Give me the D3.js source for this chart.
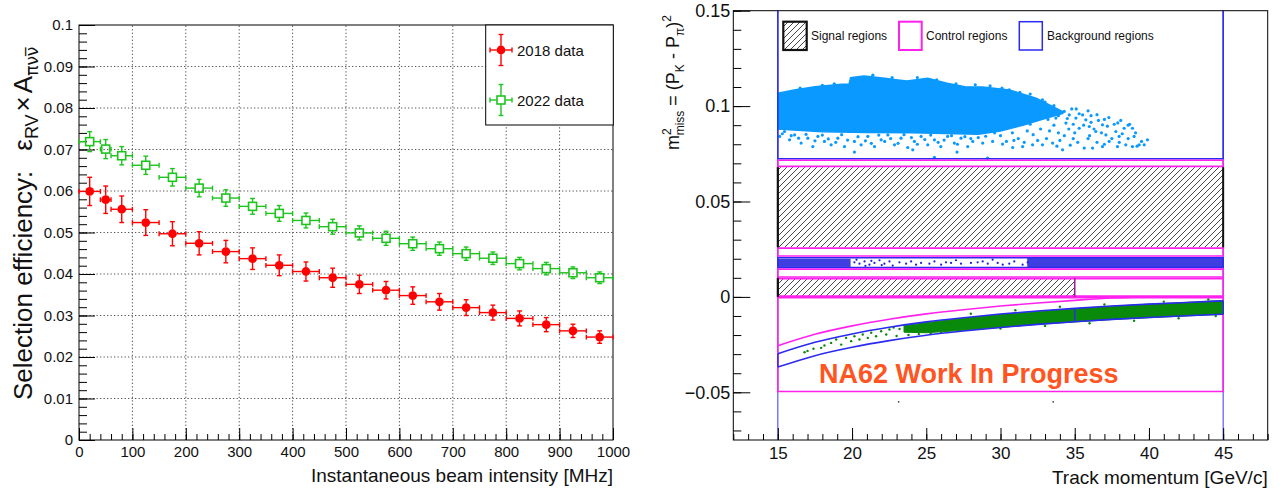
<!DOCTYPE html>
<html>
<head>
<meta charset="utf-8">
<script src="https://cdnjs.cloudflare.com/ajax/libs/d3/7.8.5/d3.min.js"></script>
<style>
  body { margin: 0; background: #fff; }
  svg { display: block; font-family: "Liberation Sans", Arial, Helvetica, sans-serif; }
</style>
</head>
<body>
<svg id="chart" width="1288" height="489"></svg>
<script>
// ---- left panel: selection efficiency vs beam intensity ----
const binEdges = [0, 40, 60, 100, 150, 200, 250, 300, 350, 400, 450, 500, 550, 600, 650, 700, 750, 800, 850, 900, 950, 1000];
const eff2018 = [0.0599, 0.0579, 0.0556, 0.0524, 0.0497, 0.0474, 0.0454, 0.0437, 0.0421, 0.0406, 0.0391,
                 0.0375, 0.0361, 0.0348, 0.0333, 0.0319, 0.0307, 0.0293, 0.0278, 0.0263, 0.0248];
const err2018 = [0.0034, 0.0033, 0.0032, 0.0031, 0.0029, 0.0028, 0.0027, 0.0026, 0.0025, 0.0023, 0.0023,
                 0.0022, 0.0021, 0.0021, 0.0020, 0.0019, 0.0018, 0.0018, 0.0017, 0.0016, 0.0015];
const eff2022 = [0.0719, 0.0701, 0.0685, 0.0662, 0.0633, 0.0607, 0.0583, 0.0563, 0.0546, 0.0529, 0.0514,
                 0.0499, 0.0486, 0.0473, 0.0461, 0.0449, 0.0438, 0.0425, 0.0413, 0.0403, 0.0391];
const err2022 = [0.0024, 0.0023, 0.0022, 0.0022, 0.0021, 0.0021, 0.0020, 0.0019, 0.0019, 0.0018, 0.0018,
                 0.0017, 0.0017, 0.0016, 0.0016, 0.0016, 0.0015, 0.0015, 0.0015, 0.0014, 0.0014];
const seriesNames = ["2018 data", "2022 data"];

// ---- right panel: m2miss vs track momentum ----
const signalRegions = [[15, 45, 0.026, 0.068], [15, 35, 0, 0.010]];
const controlRegions = [[15, 45, 0.068, 0.072], [15, 45, 0.021, 0.026], [15, 45, 0.010, 0.015], [15, 45, 0, 0.010], [15, 45, -0.05, 0]];
const backgroundRegions = [[15, 45, 0.072, 0.15], [15, 45, 0.015, 0.021]];
const regionNames = ["Signal regions", "Control regions", "Background regions"];

const curveP = [15, 17.5, 20, 22.5, 25, 27.5, 30, 32.5, 35, 37.5, 40, 42.5, 45];
const kmuUpper = [-0.0298, -0.0238, -0.0194, -0.0159, -0.0131, -0.0109, -0.0090, -0.0074, -0.0060, -0.0048, -0.0038, -0.0029, -0.0021];
const kmuLower = [-0.0368, -0.0308, -0.0264, -0.0229, -0.0201, -0.0179, -0.0160, -0.0144, -0.0130, -0.0118, -0.0108, -0.0099, -0.0091];
const ctrlCurve = [-0.0256, -0.0196, -0.0152, -0.0117, -0.0089, -0.0067, -0.0048, -0.0032, -0.0018, -0.0006, 0, 0, 0];

// dense part of the K->mu nu band
const greenP = [23.5, 25, 27.5, 30, 32.5, 35, 37.5, 40, 42.5, 45];
const greenTop = [-0.0152, -0.0135, -0.0112, -0.0092, -0.0076, -0.0062, -0.0049, -0.0038, -0.0029, -0.0019];
const greenBottom = [-0.0185, -0.0188, -0.0175, -0.0160, -0.0144, -0.0131, -0.0119, -0.0109, -0.0100, -0.0091];
const greenDots = [[16.8, -0.0290], [17.0, -0.0283], [17.4, -0.0272], [17.92, -0.0267], [18.14, -0.0255], [18.59, -0.0241],
  [18.93, -0.0223], [19.27, -0.0250], [19.60, -0.0215], [19.94, -0.0232], [20.16, -0.0206], [20.50, -0.0223],
  [20.72, -0.0197], [21.06, -0.0215], [21.29, -0.0188], [21.62, -0.0206], [21.96, -0.0180], [22.30, -0.0197],
  [22.52, -0.0171], [23.0, -0.0205], [23.8, -0.0200], [24.5, -0.0195], [25.3, -0.0192], [26.0, -0.0188],
  [22.8, -0.0160], [23.2, -0.0168], [24.0, -0.0150], [24.8, -0.0142], [26.5, -0.0128], [28.0, -0.0088],
  [31.0, -0.0070], [34.0, -0.0052], [37.0, -0.0040], [41.0, -0.0025], [44.0, -0.0014], [30.0, -0.0166],
  [33.0, -0.0152], [36.0, -0.0138], [39.0, -0.0125], [42.0, -0.0112], [44.5, -0.0100]];

// K -> pi pi0 band (0.015 - 0.021)
const pipiDense = [[15, 19.9, 0.0157, 0.0200], [31.8, 45, 0.0154, 0.0204]];
const pipiDots = [[20.16, 0.0181], [20.5, 0.0174], [20.84, 0.0186], [21.17, 0.0169], [21.51, 0.0178], [21.85, 0.0192],
  [22.18, 0.0174], [22.52, 0.0186], [22.74, 0.0164], [23.19, 0.0181], [23.64, 0.0174], [23.98, 0.0186],
  [24.31, 0.0169], [24.65, 0.0178], [25.21, 0.0174], [25.55, 0.0186], [26.0, 0.0169], [26.33, 0.0181],
  [26.67, 0.0178], [27.0, 0.0192], [27.34, 0.0174], [28.01, 0.0178], [28.46, 0.0181], [28.8, 0.0186],
  [29.14, 0.0174], [29.47, 0.0195], [29.81, 0.0178], [30.15, 0.0169], [30.59, 0.0174], [30.93, 0.0186],
  [31.49, 0.0169], [31.83, 0.0181], [20.3, 0.0195], [20.9, 0.0163], [21.3, 0.0189], [22.0, 0.0167]];

// K -> pi+ pi+ pi- cloud (upper background region)
const cloudTop = [[15, 0.1068], [16.1, 0.1085], [17.5, 0.1102], [19.3, 0.1115], [19.8, 0.1115], [19.9, 0.1149],
  [20.8, 0.1158], [22.2, 0.1146], [23.1, 0.1137], [23.7, 0.1132], [25.1, 0.1146], [26.4, 0.1120], [27.6, 0.1102],
  [28.8, 0.1100], [30.6, 0.1085], [32.4, 0.1041], [34.2, 0.0971]];
const cloudBottom = [[34.2, 0.0962], [33, 0.0935], [31.5, 0.0900], [30, 0.0870], [28.5, 0.0852], [27, 0.0855],
  [24, 0.0860], [21, 0.0862], [18, 0.0866], [15, 0.0880]];
const cloudDots = [
  [15.12, 0.0841], [15.45, 0.0867], [15.79, 0.0823], [16.13, 0.0849], [16.57, 0.0806], [17.02, 0.0832], [17.36, 0.0788],
  [17.70, 0.0841], [18.14, 0.0815], [18.59, 0.0797], [19.04, 0.0832], [19.49, 0.0788], [19.83, 0.0867], [20.16, 0.0815],
  [20.61, 0.0797], [21.06, 0.0841], [21.51, 0.0788], [21.96, 0.0823], [22.41, 0.0849], [22.86, 0.0797], [23.30, 0.0832],
  [23.75, 0.0783], [24.20, 0.0815], [24.65, 0.0841], [25.10, 0.0797], [25.55, 0.0823], [25.98, 0.0788], [26.44, 0.0841],
  [26.89, 0.0806], [27.34, 0.0832], [27.79, 0.0788], [28.13, 0.0815],
  [15.3, 0.0855], [15.9, 0.0845], [16.4, 0.0832], [16.9, 0.0852], [17.5, 0.0818], [18.0, 0.0848], [18.4, 0.0828],
  [18.9, 0.0810], [19.3, 0.0850], [19.7, 0.0822], [20.4, 0.0840], [20.9, 0.0818], [21.3, 0.0805], [21.8, 0.0848],
  [22.2, 0.0815], [22.6, 0.0830], [23.1, 0.0805], [23.5, 0.0850], [24.0, 0.0835], [24.4, 0.0800], [24.9, 0.0825],
  [25.3, 0.0848], [25.8, 0.0810], [26.2, 0.0822], [26.7, 0.0845], [27.1, 0.0800], [27.6, 0.0840], [28.0, 0.0830],
  [28.5, 0.0835], [29.0, 0.0842],
  [20.16, 0.0759], [24.09, 0.0771], [25.55, 0.0731], [27.07, 0.0759], [29.13, 0.0727],
  [30.59, 0.1085], [31.83, 0.1041], [32.83, 0.1033], [32.39, 0.0989], [33.51, 0.0989], [33.73, 0.0937], [34.29, 0.0972],
  [34.63, 0.0954], [34.41, 0.0911], [35.08, 0.0937], [35.53, 0.0954], [35.75, 0.0928], [35.30, 0.0884], [35.98, 0.0893],
  [36.42, 0.0867], [36.87, 0.0902], [37.10, 0.0849], [37.66, 0.0905], [37.77, 0.0867], [37.99, 0.0841], [38.33, 0.0884],
  [38.89, 0.0884], [39.00, 0.0841], [38.89, 0.0788], [38.44, 0.0797], [39.34, 0.0797], [39.68, 0.0797], [39.90, 0.0823],
  [35.64, 0.0780], [36.20, 0.0780], [36.87, 0.0788], [37.32, 0.0815], [37.88, 0.0788], [34.18, 0.0771], [33.51, 0.0806],
  [32.83, 0.0797], [32.16, 0.0797], [31.49, 0.0788], [30.82, 0.0783], [30.14, 0.0801], [29.47, 0.0815], [28.80, 0.0806],
  [30.0, 0.0845], [30.8, 0.0860], [31.2, 0.0830], [31.8, 0.0870], [32.2, 0.0850], [32.7, 0.0880], [33.1, 0.0830],
  [33.6, 0.0900], [33.9, 0.0860], [34.6, 0.0880], [34.9, 0.0830], [31.0, 0.0900], [32.0, 0.0905], [29.6, 0.0860],
  [30.4, 0.0815], [33.2, 0.0930], [34.0, 0.0820], [35.2, 0.0810], [36.0, 0.0845], [36.6, 0.0925],
  [34.5, 0.0935], [34.9, 0.0905], [35.3, 0.0960], [35.6, 0.0900], [36.1, 0.0915], [36.3, 0.0880], [36.8, 0.0860],
  [37.2, 0.0895], [37.5, 0.0830], [37.9, 0.0912], [38.2, 0.0855], [38.6, 0.0830], [39.1, 0.0860], [39.5, 0.0815],
  [36.5, 0.0810], [35.0, 0.0860], [34.3, 0.0845], [33.8, 0.0790], [35.9, 0.0830], [37.0, 0.0800], [38.0, 0.0810],
  [38.7, 0.0905], [39.2, 0.0790], [34.7, 0.0795], [33.3, 0.0870], [32.5, 0.0820], [31.6, 0.0810], [30.9, 0.0820],
  [33.9, 0.0950], [35.1, 0.0985], [36.1, 0.0950], [37.0, 0.0930],
  [16.5, 0.1094], [18.0, 0.1109], [18.8, 0.1117], [21.4, 0.1162], [22.7, 0.1149], [24.4, 0.1150], [25.7, 0.1138],
  [27.0, 0.1116], [28.3, 0.1112], [29.3, 0.1106], [30.1, 0.1094], [31.3, 0.1072], [32.0, 0.1063], [33.0, 0.1021],
  [33.6, 0.1003], [34.8, 0.0985], [35.9, 0.0975], [36.5, 0.0955], [37.3, 0.0940], [38.1, 0.0925], [38.6, 0.0900]];
const strayDots = [[23.14, -0.055], [33.55, -0.055]];

const svg = d3.select("#chart");
const txt = "#111";

// ================= LEFT PANEL =================
const xL = d3.scaleLinear().domain([0, 1000]).range([79, 613]);
const yL = d3.scaleLinear().domain([0, 0.1]).range([440, 25]);
const left = svg.append("g");

// dotted grid
left.selectAll("line.vgrid").data(xL.ticks(10).filter(d => d > 0 && d < 1000)).join("line")
  .attr("x1", d => xL(d)).attr("x2", d => xL(d)).attr("y1", yL(0)).attr("y2", yL(0.1))
  .attr("stroke", "#555").attr("stroke-width", 1).attr("stroke-dasharray", "1.3,2.2");
left.selectAll("line.hgrid").data(yL.ticks(10).filter(d => d > 0 && d < 0.0999)).join("line")
  .attr("x1", xL(0)).attr("x2", xL(1000)).attr("y1", d => yL(d)).attr("y2", d => yL(d))
  .attr("stroke", "#555").attr("stroke-width", 1).attr("stroke-dasharray", "1.3,2.2");

function styleAxis(g, size) {
  g.select("path.domain").remove();
  g.selectAll("line").attr("stroke", "#000");
  g.selectAll("text").attr("font-size", size).attr("fill", txt).attr("font-family", "Liberation Sans, Arial, sans-serif");
}
const fmt = d => d === 0 ? "0" : d3.format(".2~f")(d);

left.append("g").attr("transform", `translate(${xL(0)},0)`)
  .call(d3.axisLeft(yL).tickValues(d3.range(0, 51).map(i => i * 0.002)).tickSizeInner(-8).tickSizeOuter(0).tickFormat(""))
  .call(g => styleAxis(g, 15));
left.append("g").attr("transform", `translate(${xL(0)},0)`)
  .call(d3.axisLeft(yL).tickValues(yL.ticks(10)).tickSizeInner(-16).tickSizeOuter(0).tickPadding(6).tickFormat(fmt))
  .call(g => styleAxis(g, 15));
left.append("g").attr("transform", `translate(0,${yL(0)})`)
  .call(d3.axisBottom(xL).tickValues(d3.range(0, 51).map(i => i * 20)).tickSizeInner(-6).tickSizeOuter(0).tickFormat(""))
  .call(g => styleAxis(g, 15));
left.append("g").attr("transform", `translate(0,${yL(0)})`)
  .call(d3.axisBottom(xL).tickValues(xL.ticks(10)).tickSizeInner(-12).tickSizeOuter(0).tickPadding(6).tickFormat(d3.format("d")))
  .call(g => styleAxis(g, 15));

left.append("rect").attr("x", xL(0)).attr("y", yL(0.1)).attr("width", xL(1000) - xL(0)).attr("height", yL(0) - yL(0.1))
  .attr("fill", "none").attr("stroke", "#000").attr("stroke-width", 1);

function drawPoint(g, cx, cy, xl, xr, yt, yb, color, filled) {
  const r = 4.2, c = 2.4;
  const seg = (x1, y1, x2, y2) => g.append("line").attr("x1", x1).attr("y1", y1).attr("x2", x2).attr("y2", y2)
    .attr("stroke", color).attr("stroke-width", 1.4);
  if (xl < cx - r) { seg(xl, cy, cx - r, cy); seg(xl, cy - c, xl, cy + c); }
  if (xr > cx + r) { seg(cx + r, cy, xr, cy); seg(xr, cy - c, xr, cy + c); }
  if (yt < cy - r) { seg(cx, yt, cx, cy - r); seg(cx - c, yt, cx + c, yt); }
  if (yb > cy + r) { seg(cx, cy + r, cx, yb); seg(cx - c, yb, cx + c, yb); }
  if (filled) {
    g.append("circle").attr("cx", cx).attr("cy", cy).attr("r", 4.4).attr("fill", color);
  } else {
    g.append("rect").attr("x", cx - 4).attr("y", cy - 4).attr("width", 8).attr("height", 8)
      .attr("fill", "none").attr("stroke", color).attr("stroke-width", 1.6);
  }
}

const red = "#ff0000", green = "#1ec41e";
const series = [
  { vals: eff2022, errs: err2022, color: green, filled: false },
  { vals: eff2018, errs: err2018, color: red, filled: true }
];
series.forEach(s => {
  const g = left.append("g");
  s.vals.forEach((v, i) => {
    const mid = (binEdges[i] + binEdges[i + 1]) / 2;
    drawPoint(g, xL(mid), yL(v), xL(binEdges[i]), xL(binEdges[i + 1]), yL(v + s.errs[i]), yL(v - s.errs[i]), s.color, s.filled);
  });
});

// legend
const legL = left.append("g");
legL.append("rect").attr("x", 485.7).attr("y", 25).attr("width", 127.6).attr("height", 100)
  .attr("fill", "#fff").attr("stroke", "#000").attr("stroke-width", 1);
[[red, true, 50], [green, false, 100]].forEach((d, i) => {
  drawPoint(legL, 501, d[2], 490, 512, d[2] - 15.5, d[2] + 15.5, d[0], d[1]);
  legL.append("text").attr("x", 517).attr("y", d[2] + 5.5).attr("font-size", 15).attr("fill", txt).text(seriesNames[i]);
});

// titles
const ytL = left.append("text").attr("transform", "translate(32,400) rotate(-90)").attr("font-size", 26).attr("fill", txt);
ytL.append("tspan").text("Selection efficiency:");
ytL.append("tspan").attr("dx", 20).text("ε");
ytL.append("tspan").attr("font-size", 18).attr("dy", 6).text("RV");
ytL.append("tspan").attr("dy", -6).attr("dx", 3).text("×");
ytL.append("tspan").attr("dx", 3).text("A");
ytL.append("tspan").attr("font-size", 17).attr("dy", 6).attr("font-family", "DejaVu Sans").text("πνν\u0305");

left.append("text").attr("x", 613).attr("y", 482).attr("text-anchor", "end").attr("font-size", 19).attr("fill", txt)
  .text("Instantaneous beam intensity [MHz]");

// ================= RIGHT PANEL =================
const xR = d3.scaleLinear().domain([12, 48]).range([733.3, 1267.7]);
const yR = d3.scaleLinear().domain([-0.075, 0.15]).range([440, 10.7]);
const right = svg.append("g");

const defs = svg.append("defs");
defs.append("pattern").attr("id", "hatch").attr("patternUnits", "userSpaceOnUse").attr("width", 6).attr("height", 6)
  .append("path").attr("d", "M-1,1 L1,-1 M0,6 L6,0 M5,7 L7,5").attr("stroke", "#333").attr("stroke-width", 0.9);

const magenta = "#ff22ee", blue = "#2a2af0", cloudBlue = "#0a99ff", kmuGreen = "#0a8a0a";

function box(g, r, color, w, inset) {
  const x0 = xR(r[0]), x1 = xR(r[1]), yb = yR(r[2]) - inset;
  const openTop = r[3] >= yR.domain()[1];
  const yt = openTop ? yR(r[3]) : yR(r[3]) + inset;
  const d = openTop ? `M${x0},${yt}L${x0},${yb}L${x1},${yb}L${x1},${yt}`
                    : `M${x0},${yt}L${x0},${yb}L${x1},${yb}L${x1},${yt}Z`;
  g.append("path").attr("d", d).attr("fill", "none").attr("stroke", color).attr("stroke-width", w);
}

// vertical momentum limits
[15, 45].forEach(p => right.append("line").attr("x1", xR(p)).attr("x2", xR(p)).attr("y1", yR(0.15)).attr("y2", yR(-0.075))
  .attr("stroke", "#4a4aff").attr("stroke-width", 1.1));

// 3pi cloud
right.append("path").attr("d", d3.line().x(d => xR(d[0])).y(d => yR(d[1]))(cloudTop.concat(cloudBottom)) + "Z")
  .attr("fill", cloudBlue).attr("stroke", cloudBlue).attr("stroke-width", 1.5);
right.selectAll("circle.cloud").data(cloudDots).join("circle")
  .attr("cx", d => xR(d[0])).attr("cy", d => yR(d[1])).attr("r", 1.6).attr("fill", cloudBlue);

// hatched signal regions
signalRegions.forEach(r => {
  right.append("rect").attr("x", xR(r[0])).attr("y", yR(r[3])).attr("width", xR(r[1]) - xR(r[0]))
    .attr("height", yR(r[2]) - yR(r[3])).attr("fill", "url(#hatch)");
});
// pi pi0 band content
pipiDense.forEach(r => right.append("rect").attr("x", xR(r[0])).attr("y", yR(r[3])).attr("width", xR(r[1]) - xR(r[0]))
  .attr("height", yR(r[2]) - yR(r[3])).attr("fill", "#1c1cdc").attr("opacity", 0.85));
right.selectAll("circle.pipi").data(pipiDots).join("circle")
  .attr("cx", d => xR(d[0])).attr("cy", d => yR(d[1])).attr("r", 1.1).attr("fill", "#1c1cdc");

backgroundRegions.forEach(r => box(right, r, blue, 1.5, 0.8));
controlRegions.forEach(r => box(right, r, magenta, 1.6, 0.8));

// signal region edges
signalRegions.forEach((r, i) => {
  right.append("line").attr("x1", xR(r[0])).attr("x2", xR(r[0])).attr("y1", yR(r[3])).attr("y2", yR(r[2]))
    .attr("stroke", "#111").attr("stroke-width", 2.2);
  right.append("line").attr("x1", xR(r[1])).attr("x2", xR(r[1])).attr("y1", yR(r[3])).attr("y2", yR(r[2]))
    .attr("stroke", i === 0 ? "#111" : "#a0208f").attr("stroke-width", i === 0 ? 2 : 1.6);
});

// K -> mu nu band
const lineR = d3.line().x(d => xR(d[0])).y(d => yR(d[1])).curve(d3.curveMonotoneX);
right.append("path").attr("d", lineR(d3.zip(curveP, ctrlCurve))).attr("fill", "none").attr("stroke", magenta).attr("stroke-width", 1.6);
const greenPoly = d3.zip(greenP, greenTop).concat(d3.zip(greenP, greenBottom).reverse());
right.append("path").attr("d", d3.line().x(d => xR(d[0])).y(d => yR(d[1])).curve(d3.curveLinearClosed)(greenPoly))
  .attr("fill", kmuGreen).attr("stroke", kmuGreen).attr("stroke-width", 1);
right.selectAll("circle.kmu").data(greenDots).join("circle")
  .attr("cx", d => xR(d[0])).attr("cy", d => yR(d[1])).attr("r", 1.2).attr("fill", kmuGreen);
right.append("path").attr("d", lineR(d3.zip(curveP, kmuUpper))).attr("fill", "none").attr("stroke", blue).attr("stroke-width", 1.6);
right.append("path").attr("d", lineR(d3.zip(curveP, kmuLower))).attr("fill", "none").attr("stroke", blue).attr("stroke-width", 1.6);
[0, 8, 12].forEach(i => right.append("line").attr("x1", xR(curveP[i])).attr("x2", xR(curveP[i]))
  .attr("y1", yR(kmuUpper[i])).attr("y2", yR(kmuLower[i])).attr("stroke", blue).attr("stroke-width", 1.4));

right.selectAll("circle.stray").data(strayDots).join("circle")
  .attr("cx", d => xR(d[0])).attr("cy", d => yR(d[1])).attr("r", 0.9).attr("fill", "#444");

right.append("text").attr("x", 819).attr("y", 383).attr("font-size", 27).attr("font-weight", "bold")
  .attr("fill", "#ff5522").text("NA62 Work In Progress");

// legend
const legR = right.append("g");
legR.append("rect").attr("x", 783.3).attr("y", 21.7).attr("width", 23.4).attr("height", 28.3)
  .attr("fill", "url(#hatch)").attr("stroke", "#111").attr("stroke-width", 2.2);
legR.append("rect").attr("x", 899).attr("y", 21.7).attr("width", 22.7).attr("height", 28.3)
  .attr("fill", "none").attr("stroke", magenta).attr("stroke-width", 2);
legR.append("rect").attr("x", 1019.3).attr("y", 21.7).attr("width", 23).attr("height", 28.3)
  .attr("fill", "none").attr("stroke", blue).attr("stroke-width", 1.5);
[811, 926, 1047].forEach((x, i) => legR.append("text").attr("x", x).attr("y", 39.5).attr("font-size", 12)
  .attr("fill", txt).text(regionNames[i]));

// axes
right.append("g").attr("transform", `translate(${xR(12)},0)`)
  .call(d3.axisLeft(yR).tickValues(d3.range(-7, 16).map(i => i * 0.01)).tickSizeInner(-8).tickSizeOuter(0).tickFormat(""))
  .call(g => styleAxis(g, 17));
right.append("g").attr("transform", `translate(${xR(12)},0)`)
  .call(d3.axisLeft(yR).tickValues([-0.05, 0, 0.05, 0.1, 0.15]).tickSizeInner(-17).tickSizeOuter(0).tickPadding(3).tickFormat(fmt))
  .call(g => styleAxis(g, 18));
right.append("g").attr("transform", `translate(0,${yR(-0.075)})`)
  .call(d3.axisBottom(xR).tickValues(d3.range(12, 49)).tickSizeInner(-6).tickSizeOuter(0).tickFormat(""))
  .call(g => styleAxis(g, 17));
right.append("g").attr("transform", `translate(0,${yR(-0.075)})`)
  .call(d3.axisBottom(xR).tickValues(d3.range(15, 46, 5)).tickSizeInner(-12).tickSizeOuter(0).tickPadding(7).tickFormat(d3.format("d")))
  .call(g => styleAxis(g, 17));
right.append("rect").attr("x", xR(12)).attr("y", yR(0.15)).attr("width", xR(48) - xR(12)).attr("height", yR(-0.075) - yR(0.15))
  .attr("fill", "none").attr("stroke", "#000").attr("stroke-width", 1);

// titles
const ytR = right.append("text").attr("transform", "translate(679,150) rotate(-90)").attr("font-size", 18).attr("fill", txt);
ytR.append("tspan").text("m");
ytR.append("tspan").attr("font-size", 12).attr("dy", -8).text("2");
ytR.append("tspan").attr("font-size", 12).attr("dx", -7).attr("dy", 13).text("miss");
ytR.append("tspan").attr("dy", -5).text(" = (P");
ytR.append("tspan").attr("font-size", 12).attr("dy", 5).text("K");
ytR.append("tspan").attr("dy", -5).text(" - P");
ytR.append("tspan").attr("font-size", 12).attr("dy", 5).text("π");
ytR.append("tspan").attr("dy", -5).text(")");
ytR.append("tspan").attr("font-size", 12).attr("dy", -8).text("2");

right.append("text").attr("x", 1267.7).attr("y", 484).attr("text-anchor", "end").attr("font-size", 19).attr("fill", txt)
  .text("Track momentum [GeV/c]");
</script>
</body>
</html>
